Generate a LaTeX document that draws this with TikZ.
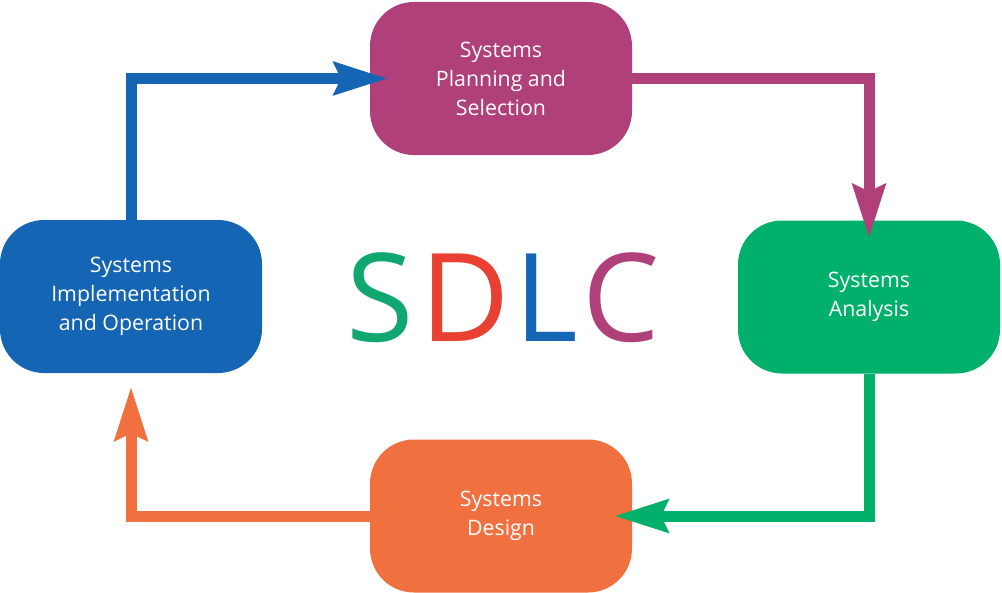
\documentclass[tikz,border=0pt]{standalone}
\usepackage{fontspec}
\setmainfont{Open Sans}
\usetikzlibrary{arrows.meta}
\definecolor{cmag}{HTML}{B0407A}
\definecolor{cgreen}{HTML}{00B06B}
\definecolor{corange}{HTML}{F07040}
\definecolor{cblue}{HTML}{1565B5}
\definecolor{cred}{HTML}{E84032}
\definecolor{cgreenS}{HTML}{10A870}
\tikzset{
  stage/.style={rectangle, rounded corners=33pt, fill=#1, text=white,
    minimum width=196.5pt, minimum height=114.75pt, inner sep=0pt,
    align=center, font=\fontsize{16}{21.75}\selectfont},
  flow/.style={draw=#1, line width=8.25pt, line join=miter,
    -{Stealth[length=40pt, width=24pt, inset=5pt]}},
}
\begin{document}
\begin{tikzpicture}[x=0.75pt,y=-0.75pt]
\useasboundingbox (0,0) rectangle (1002,592);
\node[stage=cmag] (P) at (501,78.5) {Systems\\Planning and\\Selection};
\node[stage=cgreen] (A) at (869,297) {Systems\\Analysis};
\node[stage=corange] (D) at (501,516) {Systems\\Design};
\node[stage=cblue] (I) at (131,296.5) {Systems\\Implementation\\and Operation};
\draw[flow=cblue] (I.north) |- ([xshift=13.5pt]P.west);
\draw[flow=cmag] (P.east) -| ([yshift=-13.5pt]A.north);
\draw[flow=cgreen] (A.south) |- ([xshift=-13.5pt]D.east);
\draw[flow=corange] (D.west) -| ([yshift=-10pt]I.south);
\node[font=\fontsize{92}{92}\selectfont, inner sep=0pt] (T) at (503,298)
  {\textcolor{cgreenS}{S}\kern5pt\textcolor{cred}{D}\kern4pt\textcolor{cblue}{L}\kern3pt\textcolor{cmag}{C}};
\end{tikzpicture}
\end{document}
